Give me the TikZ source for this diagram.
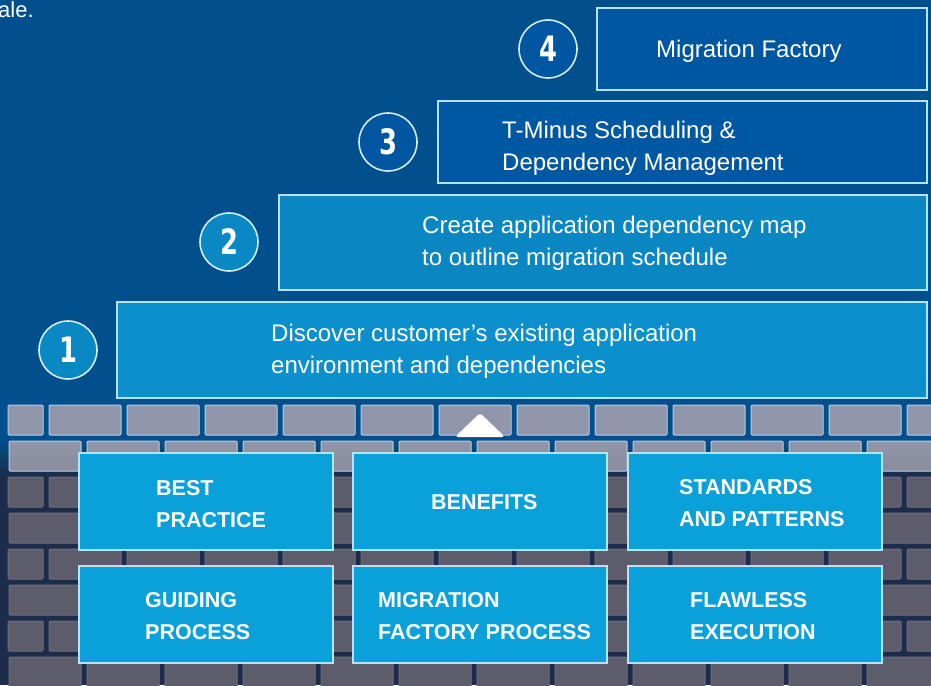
\documentclass[tikz,border=0pt]{standalone}
\usepackage{fontspec}
\setmainfont{Liberation Sans}
\newfontfamily\numfont{DejaVu Sans Condensed}
\definecolor{bgtop}{HTML}{01508D}
\definecolor{navy}{HTML}{1C2C4A}
\definecolor{brickL}{HTML}{9196AA}
\definecolor{brickLedge}{HTML}{AECFEC}
\definecolor{brickLlow}{HTML}{8A8C9C}
\definecolor{brickD}{HTML}{5C5C6A}
\definecolor{brickDedge}{HTML}{6E6E7E}
\definecolor{sA}{HTML}{0B8FCD}
\definecolor{sB}{HTML}{0A86C3}
\definecolor{sC}{HTML}{0058A3}
\definecolor{sD}{HTML}{0057A1}
\definecolor{bb}{HTML}{0AA0DA}
\definecolor{edgec}{HTML}{B5E3F5}
\definecolor{ringc}{HTML}{D2ECF6}
\definecolor{cA}{HTML}{0A88C4}
\definecolor{cC}{HTML}{0056A0}
\begin{document}
\begin{tikzpicture}[x=1pt,y=-1pt,
  box/.style={draw=edgec, line width=1.6pt, anchor=north west, inner sep=0pt, outer sep=0pt},
  txt/.style={anchor=base west, text=white, font=\fontsize{24}{31.7}\selectfont, align=left, inner sep=0pt},
  btxt/.style={anchor=base west, text=white, font=\bfseries\fontsize{21.5}{31.7}\selectfont, align=left, inner sep=0pt},
  numc/.style={circle, draw=ringc, line width=1.6pt, minimum size=58pt, inner sep=0pt, text=white, font=\numfont\bfseries\fontsize{35}{35}\selectfont},
  brickl/.style={fill=brickL, draw=brickLedge, line width=1pt, rounded corners=1pt},
  brickd/.style={fill=brickD, draw=brickDedge, line width=1pt, rounded corners=1pt}]
\useasboundingbox (0,0) rectangle (931,685);
% background
\fill[bgtop] (0,0) rectangle (931,685);
\fill[navy] (0,474) rectangle (931,685);
\shade[top color=bgtop, bottom color=navy] (0,438) rectangle (931,476);
\begin{scope}
\clip (0,0) rectangle (931,685);
% light rows
\draw[brickl] (8,405) rectangle (43,435);
\foreach \k in {0,...,11} \draw[brickl] ({49+78*\k},405) rectangle ({121+78*\k},435);
\foreach \k in {0,...,11} \draw[brickl, top color=brickL, bottom color=brickLlow] ({9+78*\k},441) rectangle ({81+78*\k},471);
% dark rows
\foreach \r in {2,4,6} {
  \draw[brickd] (8,{405+36*\r}) rectangle (43,{435+36*\r});
  \foreach \k in {0,...,11} \draw[brickd] ({49+78*\k},{405+36*\r}) rectangle ({121+78*\k},{435+36*\r});
}
\foreach \r in {3,5,7} {
  \foreach \k in {0,...,11} \draw[brickd] ({9+78*\k},{405+36*\r}) rectangle ({81+78*\k},{435+36*\r});
}
\end{scope}
% triangle
\fill[white, rounded corners=3pt] (455,437) -- (480,413) -- (505,437) -- cycle;
% step boxes
\node[box, fill=sA, minimum width=810pt, minimum height=96pt] (b1) at (117,302) {};
\node[box, fill=sB, minimum width=648pt, minimum height=95pt] (b2) at (279,195) {};
\node[box, fill=sC, minimum width=489pt, minimum height=82pt] (b3) at (438,101) {};
\node[box, fill=sD, minimum width=330pt, minimum height=82pt] (b4) at (597,8) {};
\node[txt] (t1) at (271,373) {Discover customer’s existing application\\environment and dependencies};
\node[txt] (t2) at (422,265) {Create application dependency map\\to outline migration schedule};
\node[txt] (t3) at (502,170) {T-Minus Scheduling \&\\Dependency Management};
\node[txt] (t4) at (656,57) {Migration Factory};
% numbers
\node[numc, fill=cA] (n1) at (68,350) {\scalebox{0.82}[1]{1}};
\node[numc, fill=cA] (n2) at (229,242) {\scalebox{0.82}[1]{2}};
\node[numc, fill=cC] (n3) at (388,142) {\scalebox{0.82}[1]{3}};
\node[numc, fill=cC] (n4) at (548,49) {\scalebox{0.82}[1]{4}};
% pillars
\node[box, fill=bb, minimum width=254pt, minimum height=97pt] (p1) at (79,453) {};
\node[box, fill=bb, minimum width=254pt, minimum height=97pt] (p2) at (353,453) {};
\node[box, fill=bb, minimum width=254pt, minimum height=97pt] (p3) at (628,453) {};
\node[box, fill=bb, minimum width=254pt, minimum height=97pt] (p4) at (79,566) {};
\node[box, fill=bb, minimum width=254pt, minimum height=97pt] (p5) at (353,566) {};
\node[box, fill=bb, minimum width=254pt, minimum height=97pt] (p6) at (628,566) {};
\node[btxt] (q1) at (156,527) {BEST\\PRACTICE};
\node[btxt] (q2) at (431,509) {BENEFITS};
\node[btxt] (q3) at (679,526) {STANDARDS\\AND PATTERNS};
\node[btxt] (q4) at (145,639) {GUIDING\\PROCESS};
\node[btxt] (q5) at (378,639) {MIGRATION\\FACTORY PROCESS};
\node[btxt] (q6) at (690,639) {FLAWLESS\\EXECUTION};
% cut-off caption
\node[anchor=base west, text=white, font=\fontsize{22}{24}\selectfont, inner sep=0pt] (cap) at (-2,18) {ale.};
\end{tikzpicture}
\end{document}
